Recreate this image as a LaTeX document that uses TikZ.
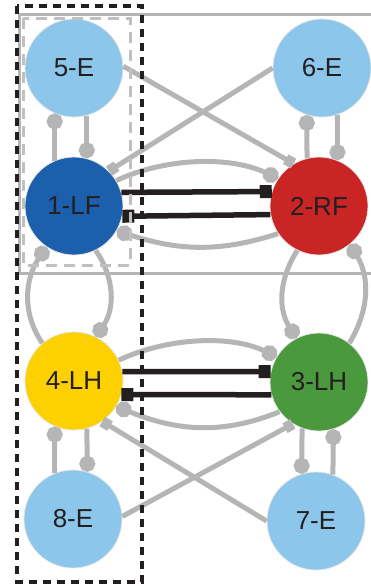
\documentclass[tikz,border=0pt]{standalone}
\usepackage{fontspec}
\setmainfont{Liberation Sans}
\usetikzlibrary{arrows.meta}
\definecolor{lblue}{HTML}{8CC6EB}
\definecolor{dblue}{HTML}{1B5FAD}
\definecolor{rred}{HTML}{C92525}
\definecolor{yyel}{HTML}{FDD000}
\definecolor{ggreen}{HTML}{4A993D}
\definecolor{lgray}{HTML}{B5B5B6}
\definecolor{dgray}{HTML}{231F20}
\begin{document}
\begin{tikzpicture}[x=1pt,y=1pt,
  neuron/.style={circle, minimum size=98pt, inner sep=0pt, draw=gray!20, line width=0.8pt,
    font=\fontsize{26}{30}\selectfont, text=dgray},
  conn/.style={draw=lgray, line width=5pt},
  dotend/.style={conn, -{Circle[length=16pt]}},
  sqend/.style={conn, -{Square[length=9pt,width=11pt]}},
  blk/.style={draw=dgray, line width=5.5pt, -{Square[length=12pt,width=13pt]}},
  frame/.style={draw=lgray, line width=3pt},
  ldash/.style={draw=lgray!85, line width=3pt, dash pattern=on 11pt off 7pt},
  bdash/.style={draw=dgray, line width=3.8pt, dash pattern=on 8pt off 6pt},
]
\useasboundingbox (0,0) rectangle (370,-587);

% frame lines
\draw[frame] (372,-14) -- (19,-14) -- (19,-273) -- (372,-273);

% nodes
\node[neuron, fill=lblue] (n5) at (74,-68) {5-E};
\node[neuron, fill=lblue] (n6) at (322,-68) {6-E};
\node[neuron, fill=dblue] (n1) at (74,-206) {1-LF};
\node[neuron, fill=rred] (n2) at (319,-206) {2-RF};
\node[neuron, fill=yyel] (n4) at (74,-381) {4-LH};
\node[neuron, fill=ggreen] (n3) at (319,-382) {3-LH};
\node[neuron, fill=lblue] (n8) at (73,-519) {8-E};
\node[neuron, fill=lblue] (n7) at (316,-521) {7-E};

% vertical pairs
\draw[dotend] (n1.113) -- (n5.247);
\draw[dotend] (n5.285) -- (n1.75);
\draw[dotend] (n2.104) -- (n6.252);
\draw[dotend] (n6.288) -- (n2.68);
\draw[dotend] (n8.112) -- (n4.247);
\draw[dotend] (n4.285) -- (n8.73);
\draw[dotend] (n3.250) -- (n7.107);
\draw[dotend] (n7.70) -- (n3.287);

% side loops
\draw[dotend] (n4.130) to[out=124,in=236] (n1.236);
\draw[dotend] (n1.296) to[out=305,in=55] (n4.64);
\draw[dotend] (n3.52) to[out=59,in=301] (n2.309);
\draw[dotend] (n2.244) to[out=237,in=123] (n3.117);

% horizontal arcs
\draw[dotend] (n1.31) to[out=25,in=155,looseness=0.85] (n2.146);
\draw[dotend] (n2.214) to[out=198,in=342] (n1.330);
\draw[dotend] (n4.25) to[out=25,in=155,looseness=0.85] (n3.149);
\draw[dotend] (n3.217) to[out=202,in=338] (n4.329);

% black connections
\draw[blk] (n1.16) -- (n2.163);
\draw[blk] (n2.190) -- (n1.348);
\draw[blk] (n4.11) -- (n3.168);
\draw[blk] (n3.195) -- (n4.344);

% diagonals
\draw[sqend] (n5.2) -- (n2.121);
\draw[sqend] (n6.180) -- (n1.45);
\draw[sqend] (n8.3) -- (n3.238);
\draw[sqend] (n7.180) -- (n4.305);

% dashed boxes
\draw[ldash] (23,-18) rectangle (130,-265);
\draw[bdash] (17,-6) rectangle (142,-582);
\end{tikzpicture}
\end{document}
